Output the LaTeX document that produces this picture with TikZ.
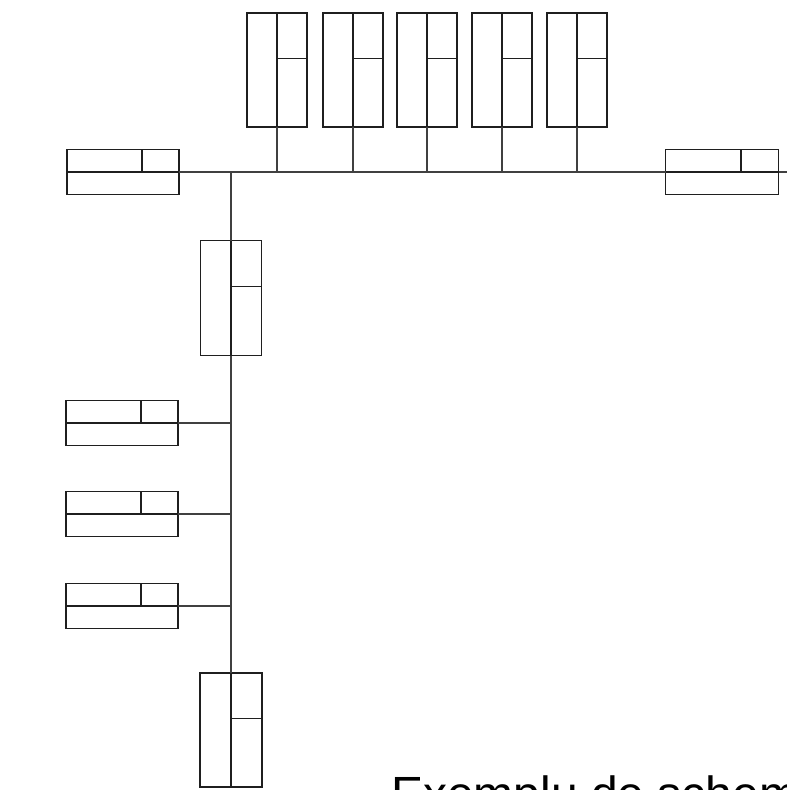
\documentclass[tikz,border=0pt]{standalone}
\usepackage{fontspec}
\setmainfont{Liberation Sans}
\usetikzlibrary{calc}
\begin{document}
\begin{tikzpicture}[x=1pt,y=-1pt,
  boxline/.style={draw=black!88,line width=1.7pt},
  wire/.style={draw=black!75,line width=1.4pt},
  vbox/.style={boxline,rectangle,minimum width=60pt,minimum height=114pt,inner sep=0pt,outer sep=0pt},
  hbox/.style={boxline,rectangle,minimum width=112pt,minimum height=45pt,inner sep=0pt,outer sep=0pt}]
\useasboundingbox (0,0) rectangle (787,790);
\fill[white] (0,0) rectangle (787,790);
% top row
\node[vbox] (t1) at (277,70) {};
\node[vbox] (t2) at (353,70) {};
\node[vbox] (t3) at (427,70) {};
\node[vbox] (t4) at (502,70) {};
\node[vbox] (t5) at (577,70) {};
% side boxes on the bus
\node[hbox] (l0) at (123,172) {};
\node[hbox,minimum width=113pt] (r0) at (722,172) {};
\coordinate (busend) at (787,172);
% vertical boxes on the trunk
\node[vbox,minimum width=61pt,minimum height=115pt] (m) at (231,298) {};
\node[vbox,minimum width=62pt] (b) at (231,730) {};
% left boxes on the trunk
\node[hbox] (l1) at (122,423) {};
\node[hbox] (l2) at (122,514) {};
\node[hbox] (l3) at (122,606) {};
% dividers of the vertical boxes
\foreach \n in {t1,t2,t3,t4,t5,m,b}{
  \draw[boxline] (\n.north) -- (\n.south);
  \draw[boxline] ($(\n.north)!0.4!(\n.south)$) -- ($(\n.north east)!0.4!(\n.south east)$);
}
% dividers of the horizontal boxes
\foreach \n in {l0,r0,l1,l2,l3}{
  \draw[boxline] (\n.west) -- (\n.east);
  \draw[boxline] ($(\n.north west)!0.67!(\n.north east)$) -- ($(\n.west)!0.67!(\n.east)$);
}
% bus
\draw[wire] (l0.east) -- (r0.west);
\draw[wire] (r0.east) -- (busend);
\foreach \n in {t1,t2,t3,t4,t5}{
  \draw[wire] (\n.south) -- (\n.south |- l0.east);
}
% trunk
\draw[wire] (l0.east -| m.north) -- (m.north);
\draw[wire] (m.south) -- (b.north);
\foreach \n in {l1,l2,l3}{
  \draw[wire] (\n.east) -- (\n.east -| m.south);
}
% caption
\node[anchor=base west,inner sep=0pt,font=\fontsize{48}{56}\selectfont] (cap) at (391,810) {Exemplu de schem};
\end{tikzpicture}
\end{document}
